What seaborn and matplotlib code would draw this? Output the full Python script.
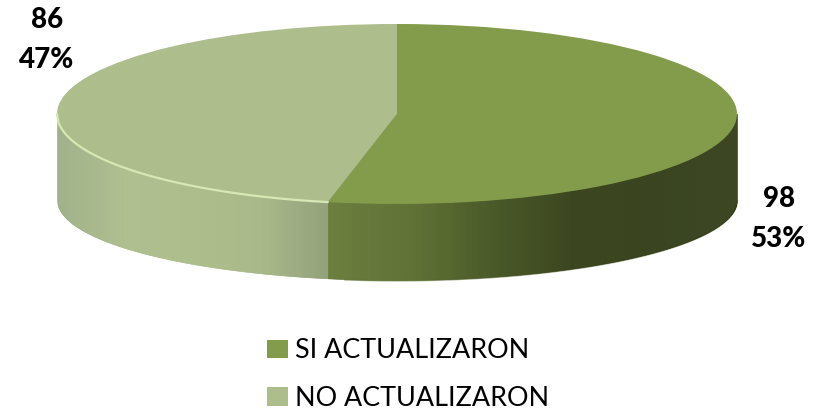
import matplotlib.pyplot as plt
import numpy as np
import seaborn as sns

# Data
categories = ["SI ACTUALIZARON", "NO ACTUALIZARON"]
counts = [98, 86]
percents = [53, 47]
top_colors = ["#839c4b", "#adbd8b"]

sns.set_theme(style="white")
plt.rcParams["font.family"] = ["Lato", "DejaVu Sans"]

W, H = 827, 412
fig = plt.figure(figsize=(W / 100, H / 100), dpi=100)

# pie top is a unit circle squashed into this pixel box
cx, cy, rx, ry = 397, 114, 340, 90
ax = fig.add_axes([(cx - rx) / W, 1 - (cy + ry) / H, 2 * rx / W, 2 * ry / H])

wedges, _ = ax.pie(counts, colors=top_colors, startangle=90, counterclock=False,
                   radius=1, wedgeprops={"linewidth": 0})
ax.set_aspect("auto")
ax.set_xlim(-1, 1)
ax.set_ylim(-1, 1)
ax.set_frame_on(False)

# side wall, below the top surface
frac = counts[0] / sum(counts)
split = np.sin(2 * np.pi * frac)
drop = (200 - cy) / ry
bottom_ry = 80 / ry


def wall_bottom(x):
    return -drop - bottom_ry * np.sqrt(np.clip(1 - x ** 2, 0, 1))


def draw_wall(x_from, x_to, ramp, n):
    edges = np.linspace(x_from, x_to, n + 1)
    shades = sns.blend_palette(ramp, n)
    for i in range(n):
        xs = np.linspace(edges[i], edges[i + 1], 3)
        ax.fill_between(xs, wall_bottom(xs), 0, color=shades[i], linewidth=0.4,
                        clip_on=False, zorder=0)


draw_wall(-1, split, ["#9dae86", "#adbd8b", "#adbd8b", "#a9b988", "#8f9e77"], 270)
draw_wall(split, 1, ["#667a38", "#5d6f30", "#4b5a29", "#364119", "#323d17", "#333e18"], 410)

# pale shadow under the dark wall
xs = np.linspace(split + 0.05, 1, 200)
ax.plot(xs, wall_bottom(xs) - 0.008, color="#a3aa93", linewidth=1.2, clip_on=False, zorder=-1)

# light rim along the front left of the top
ts = np.linspace(-1, split, 200)
ax.plot(ts, -np.sqrt(1 - ts ** 2), color="#d6e8b4", linewidth=1.6, clip_on=False, zorder=3)

# value labels
label_pos = [(779, 199, 239), (47, 20, 60)]
for count, pct, (x, y1, y2) in zip(counts, percents, label_pos):
    fig.text(x / W, 1 - y1 / H, str(count), ha="center", va="center",
             fontsize=20, fontweight="black", color="black")
    fig.text(x / W, 1 - y2 / H, f"{pct}%", ha="center", va="center",
             fontsize=20, fontweight="black", color="black")

fig.legend(wedges, categories, loc="center left", bbox_to_anchor=(267 / W, 1 - 374.5 / H),
           frameon=False, fontsize=19.4, labelspacing=0.84, handlelength=0.78,
           handleheight=0.67, handletextpad=0.26, borderpad=0, borderaxespad=0,
           labelcolor="black")

fig.savefig("out.png", dpi=100, facecolor="white")
